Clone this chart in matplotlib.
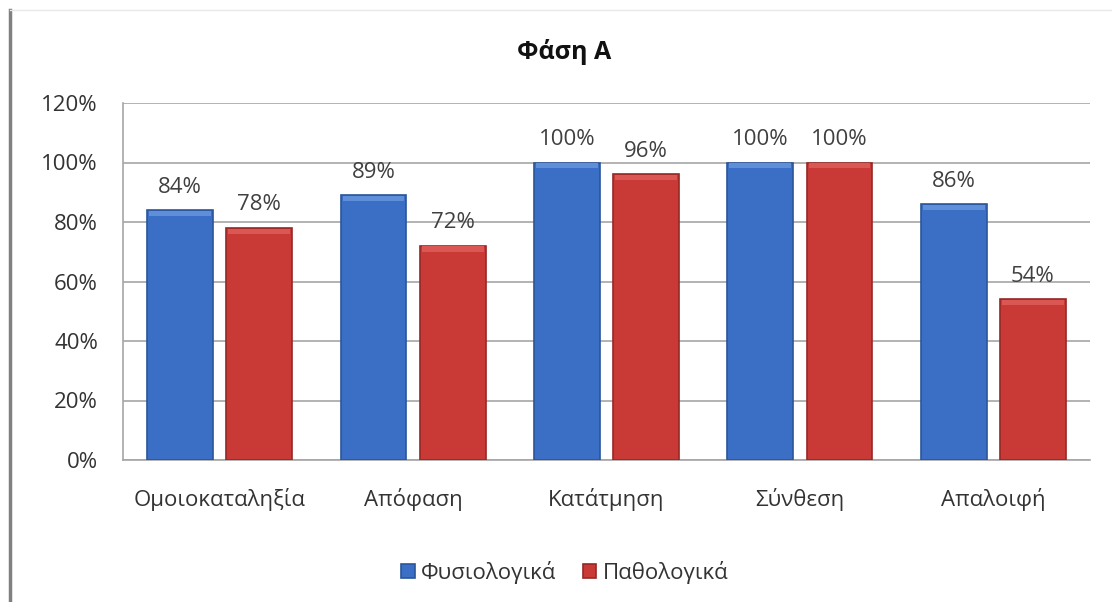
import matplotlib.pyplot as plt
import numpy as np
from matplotlib.lines import Line2D
from matplotlib.ticker import FuncFormatter

categories = ['Ομοιοκαταληξία', 'Απόφαση', 'Κατάτμηση', 'Σύνθεση', 'Απαλοιφή']
normal = [84, 89, 100, 100, 86]
pathological = [78, 72, 96, 100, 54]
series_names = ['Φυσιολογικά', 'Παθολογικά']

plt.rcParams['font.family'] = ['Open Sans', 'DejaVu Sans']

fig = plt.figure(figsize=(11.12, 6.02), dpi=100)
ax = fig.add_axes([123 / 1112, 1 - 460 / 602, (1090 - 123) / 1112, (460 - 103) / 602])

x = np.arange(len(categories))
w = 0.34
off = 0.205
b1 = ax.bar(x - off, normal, w, color='#3b6fc6', edgecolor='#2a559b', linewidth=1.2,
            label=series_names[0], zorder=3)
b2 = ax.bar(x + off, pathological, w, color='#c93a37', edgecolor='#962826', linewidth=1.2,
            label=series_names[1], zorder=3)

# soft highlight on the bar tops
for bars, hl in ((b1, '#5f8fd9'), (b2, '#db5753')):
    for r in bars:
        ax.bar(r.get_x() + r.get_width() / 2, 1.8, r.get_width() * 0.94,
               bottom=r.get_height() - 2.0, color=hl, linewidth=0, zorder=4)

for bars, vals in ((b1, normal), (b2, pathological)):
    for r, v in zip(bars, vals):
        ax.annotate('%d%%' % v, (r.get_x() + r.get_width() / 2, v), xytext=(0, 9),
                    textcoords='offset points', ha='center', va='bottom',
                    fontsize=16, color='#404040')

ax.set_xlim(-0.5, len(categories) - 0.5)
ax.set_ylim(0, 120)
ax.set_yticks(range(0, 121, 20))
ax.yaxis.set_major_formatter(FuncFormatter(lambda v, p: '%d%%' % v))
ax.set_xticks(x)
ax.set_xticklabels(categories)
ax.tick_params(axis='both', length=0, labelsize=16, colors='#333333')
ax.tick_params(axis='x', pad=20)
ax.tick_params(axis='y', pad=18)
ax.grid(axis='y', color='#a6a6a6', linewidth=1.2, zorder=0)
for s in ('top', 'right'):
    ax.spines[s].set_visible(False)
for s in ('left', 'bottom'):
    ax.spines[s].set_color('#a6a6a6')
    ax.spines[s].set_linewidth(1.2)

fig.text(564 / 1112, 1 - 52 / 602, 'Φάση Α', ha='center', va='center',
         fontsize=18, fontweight='bold', color='#111111')

fig.legend(handles=[b1, b2], labels=series_names, loc='center',
           bbox_to_anchor=(565 / 1112, 1 - 572 / 602), ncol=2, frameon=False,
           fontsize=16, handlelength=0.6, handleheight=0.6, handletextpad=0.3,
           columnspacing=1.2, labelcolor='#333333')

# page border remnants
fig.add_artist(Line2D([10 / 1112, 10 / 1112], [0, 1 - 10 / 602], color='#808080',
                      linewidth=2.5, transform=fig.transFigure))
fig.add_artist(Line2D([10 / 1112, 1], [1 - 10 / 602, 1 - 10 / 602], color='#e8e8e8',
                      linewidth=1, transform=fig.transFigure))

fig.savefig('out.png', dpi=100)
